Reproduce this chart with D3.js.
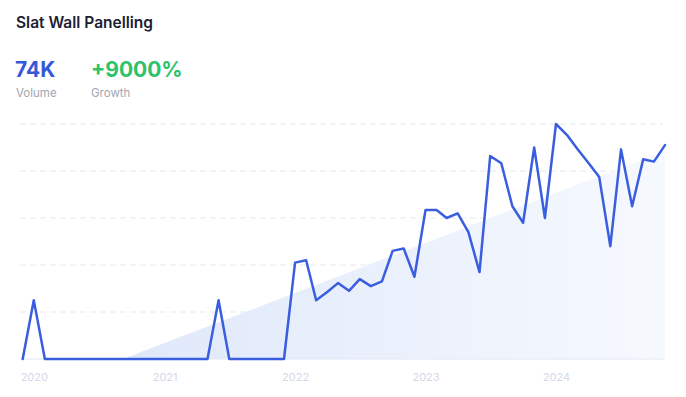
<!DOCTYPE html>
<html>
<head>
<meta charset="utf-8">
<script src="https://cdn.jsdelivr.net/npm/d3@7"></script>
<style>
  html, body { margin: 0; padding: 0; background: #fff; }
  svg { display: block; }
</style>
</head>
<body>
<svg id="chart" width="686" height="397"></svg>
<script>
// ---- data ----
const title = "Slat Wall Panelling";
const volumeLabel = "74K";
const growthLabel = "+9000%";
const months = [
  "2019-12",
  "2020-01","2020-02","2020-03","2020-04","2020-05","2020-06","2020-07","2020-08","2020-09","2020-10","2020-11","2020-12",
  "2021-01","2021-02","2021-03","2021-04","2021-05","2021-06","2021-07","2021-08","2021-09","2021-10","2021-11","2021-12",
  "2022-01","2022-02","2022-03","2022-04","2022-05","2022-06","2022-07","2022-08","2022-09","2022-10","2022-11","2022-12",
  "2023-01","2023-02","2023-03","2023-04","2023-05","2023-06","2023-07","2023-08","2023-09","2023-10","2023-11","2023-12",
  "2024-01","2024-02","2024-03","2024-04","2024-05","2024-06","2024-07","2024-08","2024-09","2024-10","2024-11"
];
const values = [
  0,
  25, 0, 0, 0, 0, 0, 0, 0, 0, 0, 0, 0,
  0, 0, 0, 0, 0, 25, 0, 0, 0, 0, 0, 0,
  41, 42, 25, 28.5, 32.3, 29, 34, 31, 33, 46, 47, 35,
  63.4, 63.4, 60, 62, 54, 37, 86.4, 83.3, 65, 58, 90, 60,
  100, 95.3, 89.4, 83.4, 77.4, 48, 89.2, 65, 85, 84, 91
];
const yearTicks = ["2020", "2021", "2022", "2023", "2024"];
const gridValues = [20, 40, 60, 80, 100];

// ---- layout ----
const svg = d3.select("#chart");
const parse = d3.timeParse("%Y-%m");
const dates = months.map(parse);
const data = dates.map((d, i) => ({ date: d, value: values[i], i }));

const x = d3.scaleTime().domain(d3.extent(dates)).range([22.7, 665]);
const y = d3.scaleLinear().domain([0, 100]).range([359, 124]);

// header
svg.append("text").attr("x", 16).attr("y", 28)
  .attr("font-family", "Inter, sans-serif").attr("font-weight", 600)
  .attr("font-size", 15.5).attr("fill", "#1c2033").text(title);
svg.append("text").attr("x", 15).attr("y", 76.5)
  .attr("font-family", "Inter, sans-serif").attr("font-weight", 700)
  .attr("font-size", 21).attr("fill", "#3658d8").text(volumeLabel);
svg.append("text").attr("x", 91).attr("y", 76.5)
  .attr("font-family", "Inter, sans-serif").attr("font-weight", 700)
  .attr("font-size", 21).attr("fill", "#2ec26b").text(growthLabel);
svg.append("text").attr("x", 16).attr("y", 97)
  .attr("font-family", "Inter, sans-serif").attr("font-weight", 400)
  .attr("font-size", 11.5).attr("fill", "#a2a6ae").text("Volume");
svg.append("text").attr("x", 91).attr("y", 97)
  .attr("font-family", "Inter, sans-serif").attr("font-weight", 400)
  .attr("font-size", 11.5).attr("fill", "#a2a6ae").text("Growth");

// gridlines
svg.append("g").selectAll("line").data(gridValues).join("line")
  .attr("x1", 20).attr("x2", 663)
  .attr("y1", d => y(d)).attr("y2", d => y(d))
  .attr("stroke", "#e6e8ec").attr("stroke-width", 1)
  .attr("stroke-dasharray", "6,4");

// trend (least squares) area
const n = data.length;
const mx = d3.mean(data, d => d.i), my = d3.mean(data, d => d.value);
const sxy = d3.sum(data, d => (d.i - mx) * (d.value - my));
const sxx = d3.sum(data, d => (d.i - mx) * (d.i - mx));
const slope = sxy / sxx, intercept = my - slope * mx;
const idxToX = d3.scaleLinear().domain([0, n - 1]).range([x(dates[0]), x(dates[n - 1])]);
const zeroIdx = Math.max(0, -intercept / slope);
const trendPts = [zeroIdx, n - 1].map(t => ({ t, v: Math.max(0, intercept + slope * t) }));

const defs = svg.append("defs");
const grad = defs.append("linearGradient").attr("id", "tg")
  .attr("x1", "0%").attr("x2", "100%").attr("y1", "0%").attr("y2", "0%");
grad.append("stop").attr("offset", "0%").attr("stop-color", "#dfe8fa");
grad.append("stop").attr("offset", "100%").attr("stop-color", "#f6f9fe");

svg.append("path").datum(trendPts)
  .attr("d", d3.area().x(d => idxToX(d.t)).y0(y(0)).y1(d => y(d.v)))
  .attr("fill", "url(#tg)");

// baseline
svg.append("line").attr("x1", 20).attr("x2", 665).attr("y1", y(0)).attr("y2", y(0))
  .attr("stroke", "#e2e6f3").attr("stroke-width", 1);

// x axis labels
const axis = d3.axisBottom(x)
  .tickValues(yearTicks.map(t => d3.timeParse("%Y")(t)))
  .tickFormat(d3.timeFormat("%Y")).tickSize(0).tickPadding(0);
const gx = svg.append("g").attr("transform", `translate(0,${y(0)})`).call(axis);
gx.select(".domain").remove();
gx.selectAll("text").attr("dy", null).attr("y", 22)
  .attr("font-family", "Inter, sans-serif").attr("font-size", 11)
  .attr("fill", "#d3d9e8");

// line
svg.append("path").datum(data)
  .attr("d", d3.line().x(d => x(d.date)).y(d => y(d.value)))
  .attr("fill", "none").attr("stroke", "#3b5ee0").attr("stroke-width", 2.5)
  .attr("stroke-linejoin", "round").attr("stroke-linecap", "round");
</script>
</body>
</html>
